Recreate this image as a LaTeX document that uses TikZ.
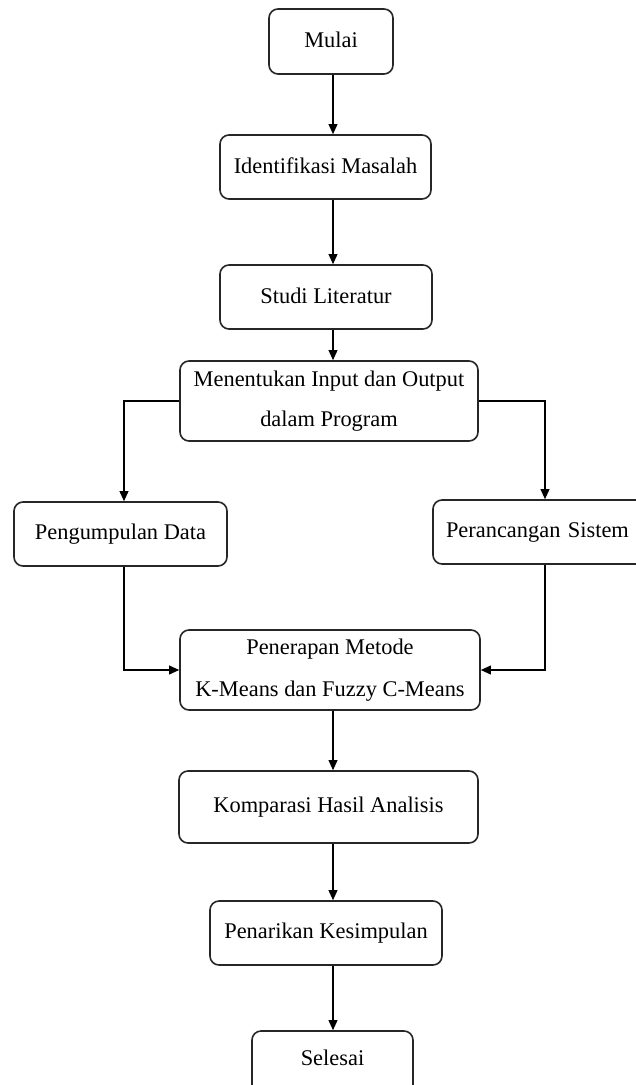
\documentclass[tikz,border=0pt]{standalone}
\usepackage{fontspec}
\setmainfont{Liberation Serif}
\usetikzlibrary{arrows.meta}
\newcommand{\upt}[1]{\raisebox{1.5pt}{#1}}
\begin{document}
\begin{tikzpicture}[x=0.5pt,y=-0.5pt,
  box/.style={draw=black!85, line width=0.8pt, rounded corners=4.5pt, align=center,
    inner sep=0pt, font=\fontsize{11.2}{20}\selectfont},
  conn/.style={draw=black, line width=0.65pt, -{Triangle[length=5pt,width=4.4pt]}}]
\useasboundingbox (0,0) rectangle (636,1085);
\clip (0,0) rectangle (636,1085);
\node[box, minimum width=62pt, minimum height=32.5pt] (mulai) at (331,41.5) {\raisebox{2pt}{Mulai}};
\node[box, minimum width=105.5pt, minimum height=32pt] (ident) at (325.5,167) {\upt{Identifikasi Masalah}};
\node[box, minimum width=106pt, minimum height=32pt] (studi) at (326,297) {\upt{Studi Literatur}};
\node[box, minimum width=149pt, minimum height=40pt] (menent) at (329,401) {Menentukan Input dan Output\\dalam Program};
\node[box, minimum width=106.5pt, minimum height=32pt] (pengump) at (120.5,534) {\upt{Pengumpulan Data}};
\node[box, minimum width=106pt, minimum height=32pt, text width=100pt, align=left] (peranc) at (539,532) {\hspace*{3.5pt}\upt{Perancangan Sistem}};
\node[box, minimum width=150pt, minimum height=40pt] (penerap) at (330,670) {\raisebox{1pt}{Penerapan Metode}\\K-Means dan Fuzzy C-Means};
\node[box, minimum width=149.5pt, minimum height=36pt] (kompar) at (328.5,807) {\upt{Komparasi Hasil Analisis}};
\node[box, minimum width=116pt, minimum height=32pt] (penarik) at (326,933) {\upt{Penarikan Kesimpulan}};
\node[box, minimum width=80.5pt, minimum height=32pt] (selesai) at (332.5,1063) {\raisebox{5pt}{Selesai}};
\coordinate (ax) at (333,0);
\coordinate (lx) at (124,0);
\coordinate (rx) at (545,0);
\draw[conn] (mulai.south -| ax) -- (ident.north -| ax);
\draw[conn] (ident.south -| ax) -- (studi.north -| ax);
\draw[conn] (studi.south -| ax) -- (menent.north -| ax);
\draw[conn] (menent.west) -| (pengump.north -| lx);
\draw[conn] (menent.east) -| (peranc.north -| rx);
\draw[conn] (pengump.south -| lx) |- (penerap.west);
\draw[conn] (peranc.south -| rx) |- (penerap.east);
\draw[conn] (penerap.south -| ax) -- (kompar.north -| ax);
\draw[conn] (kompar.south -| ax) -- (penarik.north -| ax);
\draw[conn] (penarik.south -| ax) -- (selesai.north -| ax);
\end{tikzpicture}
\end{document}
